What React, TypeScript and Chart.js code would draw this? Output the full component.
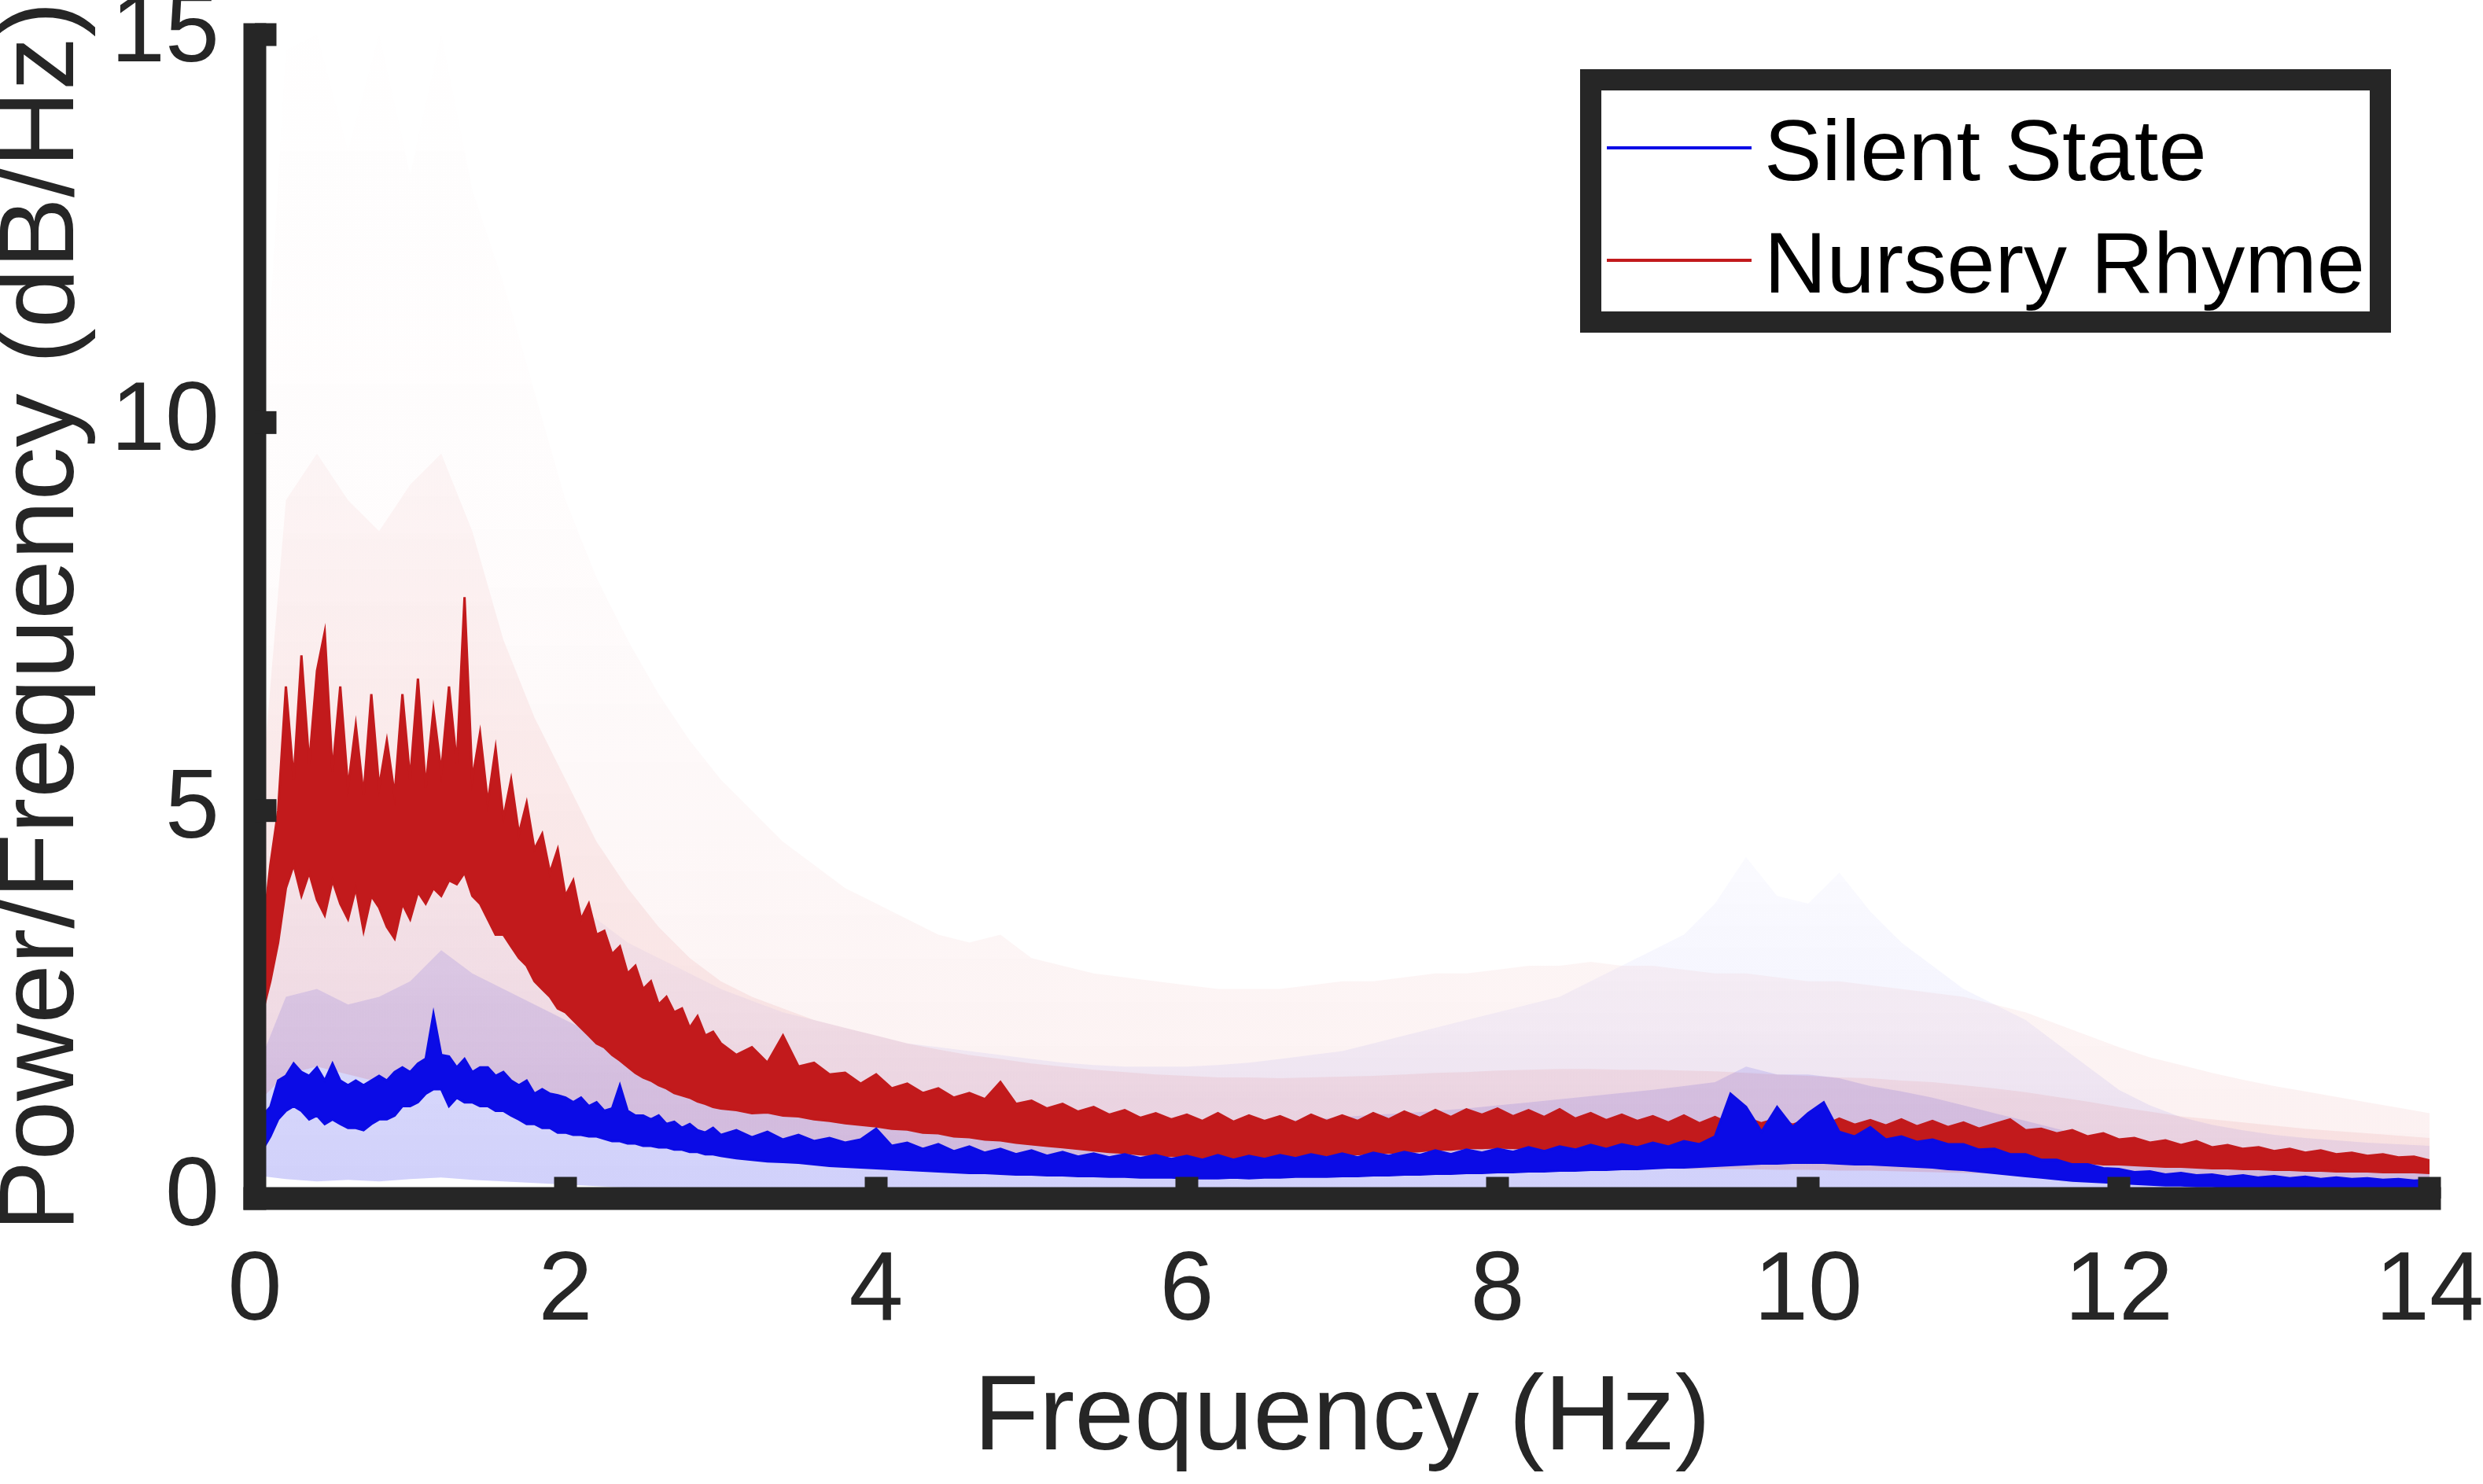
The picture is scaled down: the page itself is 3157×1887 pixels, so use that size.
import React, { useEffect, useRef } from "react";
import { Chart, registerables } from "chart.js";

Chart.register(...registerables);

// ---------- data ----------
const FREQ = [
  0, 0.05, 0.1, 0.15, 0.2, 0.25, 0.3, 0.35, 0.4, 0.45, 0.5, 0.55, 0.6, 0.65, 0.7, 0.75, 0.8, 0.85, 0.9, 0.95,
  1, 1.05, 1.1, 1.15, 1.2, 1.25, 1.3, 1.35, 1.4, 1.45, 1.5, 1.55, 1.6, 1.65, 1.7, 1.75, 1.8, 1.85, 1.9, 1.95,
  2, 2.05, 2.1, 2.15, 2.2, 2.25, 2.3, 2.35, 2.4, 2.45, 2.5, 2.55, 2.6, 2.65, 2.7, 2.75, 2.8, 2.85, 2.9, 2.95,
  3, 3.1, 3.2, 3.3, 3.4, 3.5, 3.6, 3.7, 3.8, 3.9,
  4, 4.1, 4.2, 4.3, 4.4, 4.5, 4.6, 4.7, 4.8, 4.9,
  5, 5.1, 5.2, 5.3, 5.4, 5.5, 5.6, 5.7, 5.8, 5.9,
  6, 6.1, 6.2, 6.3, 6.4, 6.5, 6.6, 6.7, 6.8, 6.9,
  7, 7.1, 7.2, 7.3, 7.4, 7.5, 7.6, 7.7, 7.8, 7.9,
  8, 8.1, 8.2, 8.3, 8.4, 8.5, 8.6, 8.7, 8.8, 8.9,
  9, 9.1, 9.2, 9.3, 9.4, 9.5, 9.6, 9.7, 9.8, 9.9,
  10, 10.1, 10.2, 10.3, 10.4, 10.5, 10.6, 10.7, 10.8, 10.9,
  11, 11.1, 11.2, 11.3, 11.4, 11.5, 11.6, 11.7, 11.8, 11.9,
  12, 12.1, 12.2, 12.3, 12.4, 12.5, 12.6, 12.7, 12.8, 12.9,
  13, 13.1, 13.2, 13.3, 13.4, 13.5, 13.6, 13.7, 13.8, 13.9,
  14,
];

// Nursery Rhyme mean trace: upper / lower edge of its noisy band
const RHYME_HI = [
  2.7, 3.4, 4.3, 5.0, 6.6, 5.4, 7.0, 5.6, 6.8, 7.3, 5.5, 6.6, 5.3, 6.1, 5.2, 6.5, 5.3, 5.9, 5.2, 6.5,
  5.4, 6.7, 5.3, 6.3, 5.5, 6.6, 5.6, 7.75, 5.4, 6.0, 5.1, 5.8, 4.9, 5.4, 4.7, 5.1, 4.5, 4.7, 4.2, 4.5,
  3.9, 4.1, 3.6, 3.8, 3.4, 3.45, 3.15, 3.25, 2.9, 3.0, 2.7, 2.8, 2.5, 2.6, 2.4, 2.45, 2.2, 2.35, 2.1, 2.15,
  2.0, 1.85, 1.95, 1.75, 2.1, 1.7, 1.75, 1.6, 1.62, 1.48,
  1.6, 1.42, 1.48, 1.36, 1.42, 1.3, 1.36, 1.28, 1.5, 1.22,
  1.26, 1.16, 1.22, 1.12, 1.18, 1.08, 1.14, 1.04, 1.1, 1.02,
  1.08, 1.0, 1.1, 0.99, 1.07, 1.0, 1.06, 0.98, 1.08, 1.0,
  1.07, 1.0, 1.1, 1.02, 1.12, 1.04, 1.14, 1.05, 1.15, 1.08,
  1.16, 1.06, 1.14, 1.05, 1.15, 1.03, 1.1, 1.01, 1.08, 1.0,
  1.06, 0.98, 1.07, 0.97, 1.05, 0.96, 1.04, 0.97, 1.03, 0.95,
  1.02, 0.94, 1.03, 0.95, 1.01, 0.94, 1.02, 0.93, 1.0, 0.92,
  0.98, 0.9, 0.96, 1.02, 0.88, 0.9, 0.84, 0.88, 0.8, 0.84,
  0.76, 0.78, 0.72, 0.75, 0.69, 0.74, 0.66, 0.69, 0.64, 0.66,
  0.61, 0.64, 0.59, 0.62, 0.57, 0.59, 0.55, 0.57, 0.53, 0.54,
  0.49,
];
const RHYME_LO = [
  2.2, 2.4, 2.8, 3.3, 4.0, 4.3, 3.9, 4.2, 3.85, 3.65, 4.1, 3.8, 3.6, 4.0, 3.45, 3.9, 3.75, 3.5, 3.35, 3.8,
  3.6, 3.95, 3.8, 4.0, 3.9, 4.1, 4.05, 4.2, 3.9, 3.8, 3.6, 3.4, 3.4, 3.25, 3.1, 3.0, 2.8, 2.7, 2.6, 2.45,
  2.4, 2.3, 2.2, 2.1, 2.0, 1.95, 1.85, 1.78, 1.7, 1.62, 1.56, 1.52, 1.46, 1.42, 1.36, 1.33, 1.3, 1.25, 1.22, 1.18,
  1.16, 1.14, 1.1, 1.11, 1.07, 1.06, 1.02, 1.0, 0.97, 0.95,
  0.93, 0.9, 0.89, 0.85, 0.84, 0.8, 0.79, 0.76, 0.75, 0.72,
  0.7, 0.68, 0.66, 0.64, 0.62, 0.6, 0.59, 0.57, 0.56, 0.55,
  0.55, 0.53, 0.54, 0.53, 0.54, 0.53, 0.55, 0.54, 0.55, 0.56,
  0.57, 0.57, 0.59, 0.59, 0.6, 0.61, 0.63, 0.63, 0.65, 0.65,
  0.66, 0.65, 0.65, 0.63, 0.63, 0.62, 0.61, 0.6, 0.61, 0.59,
  0.6, 0.58, 0.6, 0.58, 0.59, 0.57, 0.57, 0.58, 0.56, 0.57,
  0.56, 0.57, 0.55, 0.56, 0.55, 0.56, 0.54, 0.55, 0.54, 0.54,
  0.53, 0.52, 0.52, 0.5, 0.5, 0.48, 0.48, 0.46, 0.46, 0.44,
  0.44, 0.43, 0.42, 0.41, 0.41, 0.4, 0.39, 0.39, 0.38, 0.38,
  0.37, 0.37, 0.36, 0.36, 0.35, 0.35, 0.35, 0.34, 0.34, 0.34,
  0.33,
];

// Silent State mean trace: upper / lower edge of its noisy band
const SILENT_HI = [
  0.96, 1.07, 1.18, 1.52, 1.58, 1.74, 1.63, 1.58, 1.69, 1.52, 1.74, 1.52, 1.46, 1.52, 1.46, 1.52, 1.58, 1.52, 1.63, 1.69,
  1.63, 1.74, 1.8, 2.38, 1.85, 1.83, 1.69, 1.8, 1.63, 1.69, 1.69, 1.58, 1.63, 1.52, 1.46, 1.52, 1.35, 1.41, 1.35, 1.33,
  1.3, 1.24, 1.3, 1.19, 1.24, 1.13, 1.16, 1.46, 1.13, 1.07, 1.07, 1.02, 1.07, 0.96, 0.99, 0.91, 0.96, 0.88, 0.85, 0.91,
  0.82, 0.88, 0.79, 0.86, 0.76, 0.82, 0.74, 0.78, 0.72, 0.76,
  0.9, 0.68, 0.72, 0.64, 0.7, 0.61, 0.67, 0.59, 0.64, 0.57,
  0.62, 0.55, 0.6, 0.54, 0.58, 0.53, 0.57, 0.52, 0.56, 0.51,
  0.55, 0.5, 0.56, 0.5, 0.55, 0.51, 0.56, 0.52, 0.57, 0.53,
  0.58, 0.53, 0.59, 0.55, 0.6, 0.56, 0.62, 0.57, 0.63, 0.59,
  0.64, 0.6, 0.66, 0.61, 0.67, 0.63, 0.69, 0.64, 0.7, 0.66,
  0.72, 0.67, 0.74, 0.7, 0.8, 1.35, 1.18, 0.86, 1.18, 0.92,
  1.1, 1.24, 0.86, 0.8, 0.92, 0.76, 0.8, 0.73, 0.76, 0.7,
  0.7, 0.63, 0.64, 0.57, 0.57, 0.5, 0.5, 0.44, 0.44, 0.39,
  0.38, 0.34, 0.35, 0.31, 0.33, 0.3, 0.31, 0.28, 0.3, 0.27,
  0.29, 0.26, 0.28, 0.25, 0.27, 0.25, 0.26, 0.24, 0.25, 0.23,
  0.24,
];
const SILENT_LO = [
  0.57, 0.63, 0.8, 1.02, 1.13, 1.19, 1.13, 1.02, 1.07, 0.96, 1.02, 0.96, 0.91, 0.91, 0.88, 0.96, 1.02, 1.02, 1.07, 1.19,
  1.19, 1.24, 1.35, 1.41, 1.41, 1.19, 1.3, 1.24, 1.24, 1.19, 1.19, 1.13, 1.13, 1.07, 1.02, 0.96, 0.96, 0.91, 0.91, 0.85,
  0.85, 0.82, 0.82, 0.8, 0.8, 0.77, 0.74, 0.74, 0.71, 0.71, 0.68, 0.68, 0.66, 0.66, 0.63, 0.63, 0.6, 0.6, 0.57, 0.57,
  0.55, 0.52, 0.5, 0.48, 0.47, 0.46, 0.44, 0.42, 0.41, 0.4,
  0.39, 0.38, 0.37, 0.36, 0.35, 0.34, 0.33, 0.33, 0.32, 0.31,
  0.31, 0.3, 0.3, 0.29, 0.29, 0.28, 0.28, 0.27, 0.27, 0.27,
  0.26, 0.26, 0.26, 0.27, 0.26, 0.27, 0.27, 0.28, 0.28, 0.28,
  0.29, 0.29, 0.3, 0.3, 0.31, 0.31, 0.32, 0.32, 0.33, 0.33,
  0.34, 0.34, 0.35, 0.35, 0.36, 0.36, 0.37, 0.37, 0.38, 0.38,
  0.39, 0.4, 0.4, 0.41, 0.42, 0.43, 0.44, 0.45, 0.45, 0.46,
  0.46, 0.46, 0.45, 0.44, 0.44, 0.43, 0.42, 0.41, 0.4, 0.38,
  0.37, 0.35, 0.33, 0.31, 0.29, 0.27, 0.25, 0.23, 0.22, 0.21,
  0.2, 0.19, 0.18, 0.17, 0.17, 0.16, 0.16, 0.15, 0.15, 0.15,
  0.14, 0.14, 0.14, 0.13, 0.13, 0.13, 0.13, 0.12, 0.12, 0.12,
  0.12,
];

// Shaded spread (std) bands, coarser grid
const BAND_FREQ = [
  0, 0.2, 0.4, 0.6, 0.8, 1, 1.2, 1.4, 1.6, 1.8,
  2, 2.2, 2.4, 2.6, 2.8, 3, 3.2, 3.4, 3.6, 3.8,
  4, 4.2, 4.4, 4.6, 4.8, 5, 5.2, 5.4, 5.6, 5.8,
  6, 6.2, 6.4, 6.6, 6.8, 7, 7.2, 7.4, 7.6, 7.8,
  8, 8.2, 8.4, 8.6, 8.8, 9, 9.2, 9.4, 9.6, 9.8,
  10, 10.2, 10.4, 10.6, 10.8, 11, 11.2, 11.4, 11.6, 11.8,
  12, 12.2, 12.4, 12.6, 12.8, 13, 13.2, 13.4, 13.6, 13.8,
  14,
];
const RHYME_BAND_LOW = [
  1.2, 1.6, 1.7, 1.6, 1.5, 1.6, 1.7, 1.6, 1.4, 1.2,
  1.1, 0.95, 0.85, 0.75, 0.68, 0.62, 0.56, 0.52, 0.48, 0.45,
  0.43, 0.42, 0.41, 0.4, 0.4, 0.39, 0.38, 0.38, 0.37, 0.37,
  0.36, 0.36, 0.36, 0.37, 0.37, 0.38, 0.38, 0.39, 0.39, 0.4,
  0.4, 0.4, 0.4, 0.4, 0.39, 0.39, 0.38, 0.38, 0.38, 0.37,
  0.37, 0.36, 0.36, 0.35, 0.34, 0.33, 0.32, 0.31, 0.3, 0.29,
  0.28, 0.27, 0.26, 0.25, 0.24, 0.23, 0.22, 0.22, 0.21, 0.21,
  0.2,
];
const RHYME_BAND_MID = [
  4.2, 9.0, 9.6, 9.0, 8.6, 9.2, 9.6, 8.6, 7.2, 6.2,
  5.4, 4.6, 4.0, 3.5, 3.1, 2.8, 2.6, 2.45, 2.3, 2.2,
  2.1, 2.0, 1.92, 1.85, 1.8, 1.74, 1.7, 1.66, 1.63, 1.6,
  1.58, 1.56, 1.56, 1.55, 1.56, 1.57, 1.58, 1.6, 1.62, 1.63,
  1.65, 1.66, 1.67, 1.67, 1.66, 1.66, 1.65, 1.64, 1.62, 1.6,
  1.58, 1.56, 1.55, 1.52, 1.5, 1.46, 1.42, 1.37, 1.31, 1.25,
  1.18, 1.12, 1.06, 1.02, 0.98, 0.94, 0.9, 0.87, 0.84, 0.81,
  0.78,
];
const RHYME_BAND_TOP = [
  8.0, 14.8, 15, 13.5, 15, 13.2, 15, 13, 11.8, 10.4,
  9.0, 8.0, 7.2, 6.5, 5.9, 5.4, 5.0, 4.6, 4.3, 4.0,
  3.8, 3.6, 3.4, 3.3, 3.4, 3.1, 3.0, 2.9, 2.85, 2.8,
  2.75, 2.7, 2.7, 2.7, 2.75, 2.8, 2.8, 2.85, 2.9, 2.9,
  2.95, 3.0, 3.0, 3.05, 3.0, 3.0, 2.95, 2.9, 2.9, 2.85,
  2.8, 2.8, 2.75, 2.7, 2.65, 2.6, 2.5, 2.4, 2.25, 2.1,
  1.95, 1.82, 1.72, 1.62, 1.53, 1.45, 1.38, 1.31, 1.24, 1.17,
  1.1,
];
const SILENT_BAND_LOW = [
  0.3, 0.25, 0.22, 0.24, 0.22, 0.25, 0.27, 0.24, 0.22, 0.2,
  0.18, 0.16, 0.14, 0.12, 0.1, 0.08, 0.07, 0.06, 0.05, 0.05,
  0.04, 0.04, 0.04, 0.04, 0.04, 0.04, 0.04, 0.04, 0.04, 0.04,
  0.03, 0.03, 0.03, 0.03, 0.03, 0.03, 0.03, 0.03, 0.03, 0.03,
  0.03, 0.03, 0.03, 0.03, 0.03, 0.03, 0.03, 0.03, 0.03, 0.03,
  0.03, 0.03, 0.03, 0.03, 0.03, 0.03, 0.03, 0.03, 0.03, 0.03,
  0.02, 0.02, 0.02, 0.02, 0.02, 0.02, 0.02, 0.02, 0.02, 0.02,
  0.02,
];
const SILENT_BAND_MID = [
  1.6, 2.6, 2.7, 2.5, 2.6, 2.8, 3.2, 2.9, 2.7, 2.5,
  2.3, 2.1, 1.95, 1.8, 1.65, 1.55, 1.45, 1.38, 1.3, 1.25,
  1.2, 1.15, 1.1, 1.08, 1.05, 1.02, 1.0, 0.98, 0.96, 0.95,
  0.95, 0.96, 0.98, 1.0, 1.02, 1.05, 1.08, 1.1, 1.13, 1.16,
  1.2, 1.24, 1.28, 1.32, 1.36, 1.4, 1.45, 1.5, 1.7, 1.6,
  1.6, 1.55, 1.45, 1.38, 1.3, 1.2, 1.1, 1.0, 0.9, 0.8,
  0.72, 0.65, 0.6, 0.56, 0.53, 0.5, 0.48, 0.46, 0.45, 0.44,
  0.43,
];
const SILENT_BAND_TOP = [
  3.0, 4.5, 4.8, 4.4, 4.6, 5.0, 5.6, 5.0, 4.6, 4.2,
  3.9, 3.6, 3.3, 3.1, 2.9, 2.7, 2.55, 2.4, 2.3, 2.2,
  2.1, 2.0, 1.95, 1.9, 1.85, 1.8, 1.75, 1.72, 1.7, 1.7,
  1.7, 1.72, 1.75, 1.8, 1.85, 1.9, 2.0, 2.1, 2.2, 2.3,
  2.4, 2.5, 2.6, 2.8, 3.0, 3.2, 3.4, 3.8, 4.4, 3.9,
  3.8, 4.2, 3.7, 3.3, 3.0, 2.7, 2.5, 2.3, 2.0, 1.7,
  1.4, 1.2, 1.05, 0.95, 0.88, 0.82, 0.78, 0.75, 0.72, 0.7,
  0.68,
];

const SERIES_LABELS = ["Silent State", "Nursery Rhyme"];
const X_TICKS = [0, 2, 4, 6, 8, 10, 12, 14];
const Y_TICKS = [0, 5, 10, 15];
const X_TITLE = "Frequency (Hz)";
const Y_TITLE = "Power/Frequency (dB/Hz)";

// ---------- styling ----------
const W = 3157;
const H = 1887;
const BLUE = "#0b0be6";
const RED = "#c21a1c";
const AXIS = "#262626";
const FONT = '"Liberation Sans", Arial, Helvetica, sans-serif';

const pts = (xs: number[], ys: number[]) => xs.map((x, i) => ({ x, y: ys[i] }));

function gradientFill(stops: [number, string][]) {
  return (c: any) => {
    const chart = c.chart;
    const area = chart.chartArea;
    if (!area) return stops[0][1];
    const g = chart.ctx.createLinearGradient(0, area.bottom, 0, area.top);
    stops.forEach(([p, col]) => g.addColorStop(p, col));
    return g;
  };
}

export default function App() {
  const ref = useRef<HTMLCanvasElement | null>(null);

  useEffect(() => {
    const canvas = ref.current;
    if (!canvas) return;
    const LW = 29;

    const framePlugin = {
      id: "matlabFrame",
      afterDatasetsDraw(chart: any) {
        const { ctx } = chart;
        const xs = chart.scales.x;
        const ys = chart.scales.y;
        const x0 = xs.getPixelForValue(xs.min);
        const x1 = xs.getPixelForValue(xs.max);
        const y0 = ys.getPixelForValue(ys.min);
        const y1 = ys.getPixelForValue(ys.max);
        ctx.save();
        ctx.fillStyle = AXIS;
        ctx.fillRect(x0 - LW / 2, y1 - LW / 2, LW, y0 - y1 + LW);
        ctx.fillRect(x0 - LW / 2, y0 - LW / 2, x1 - x0 + LW, LW);
        const ext = LW / 2 + 13;
        ys.ticks.forEach((t: any) => {
          if (t.value === ys.min) return;
          const p = ys.getPixelForValue(t.value);
          ctx.fillRect(x0, p - LW / 2, ext, LW);
        });
        xs.ticks.forEach((t: any) => {
          if (t.value === xs.min) return;
          const p = xs.getPixelForValue(t.value);
          ctx.fillRect(p - LW / 2, y0 - ext, LW, ext);
        });
        ctx.restore();
      },
      afterDraw(chart: any) {
        const { ctx } = chart;
        const L = 2009, T = 88, R = 3040, B = 423, BW = 27;
        ctx.save();
        ctx.fillStyle = "#ffffff";
        ctx.fillRect(L, T, R - L, B - T);
        ctx.strokeStyle = AXIS;
        ctx.lineWidth = BW;
        ctx.strokeRect(L + BW / 2, T + BW / 2, R - L - BW, B - T - BW);
        const colors = [BLUE, RED];
        const lineYs = [188, 331];
        const textYs = [229, 372];
        ctx.font = `110px ${FONT}`;
        ctx.textBaseline = "alphabetic";
        ctx.textAlign = "left";
        SERIES_LABELS.forEach((label, i) => {
          ctx.strokeStyle = colors[i];
          ctx.lineWidth = 4;
          ctx.beginPath();
          ctx.moveTo(2043, lineYs[i]);
          ctx.lineTo(2227, lineYs[i]);
          ctx.stroke();
          ctx.fillStyle = "#000000";
          ctx.fillText(label, 2243, textYs[i]);
        });
        ctx.restore();
      },
    };

    const hidden = {
      borderWidth: 0,
      borderColor: "rgba(0,0,0,0)",
      backgroundColor: "rgba(0,0,0,0)",
      fill: false,
      pointRadius: 0,
    };

    const chart = new Chart(canvas, {
      type: "line",
      data: {
        datasets: [
          // 0,1: Silent State trace (drawn on top)
          { label: SERIES_LABELS[0] + " lo", data: pts(FREQ, SILENT_LO), borderColor: BLUE, borderWidth: 3, fill: false, pointRadius: 0 },
          { label: SERIES_LABELS[0], data: pts(FREQ, SILENT_HI), borderColor: BLUE, borderWidth: 3, backgroundColor: BLUE, fill: 0, pointRadius: 0 },
          // 2,3: Nursery Rhyme trace
          { label: SERIES_LABELS[1] + " lo", data: pts(FREQ, RHYME_LO), borderColor: RED, borderWidth: 3, fill: false, pointRadius: 0 },
          { label: SERIES_LABELS[1], data: pts(FREQ, RHYME_HI), borderColor: RED, borderWidth: 3, backgroundColor: RED, fill: 2, pointRadius: 0 },
          // 4-6: Nursery Rhyme spread
          { label: "rhyme band low", data: pts(BAND_FREQ, RHYME_BAND_LOW), ...hidden },
          {
            label: "rhyme band top",
            data: pts(BAND_FREQ, RHYME_BAND_TOP),
            ...hidden,
            fill: 4,
            backgroundColor: gradientFill([
              [0, "rgba(205,30,35,0.065)"],
              [0.3, "rgba(205,30,35,0.035)"],
              [0.6, "rgba(205,30,35,0.012)"],
              [1, "rgba(205,30,35,0.003)"],
            ]),
          },
          {
            label: "rhyme band mid",
            data: pts(BAND_FREQ, RHYME_BAND_MID),
            ...hidden,
            fill: 4,
            backgroundColor: gradientFill([
              [0, "rgba(205,30,35,0.08)"],
              [0.4, "rgba(205,30,35,0.065)"],
              [0.65, "rgba(205,30,35,0.035)"],
              [1, "rgba(205,30,35,0.02)"],
            ]),
          },
          // 7-9: Silent State spread
          { label: "silent band low", data: pts(BAND_FREQ, SILENT_BAND_LOW), ...hidden },
          {
            label: "silent band top",
            data: pts(BAND_FREQ, SILENT_BAND_TOP),
            ...hidden,
            fill: 7,
            backgroundColor: gradientFill([
              [0, "rgba(40,40,235,0.10)"],
              [0.15, "rgba(40,40,235,0.05)"],
              [0.3, "rgba(40,40,235,0.02)"],
              [1, "rgba(40,40,235,0.0)"],
            ]),
          },
          { label: "silent band mid", data: pts(BAND_FREQ, SILENT_BAND_MID), ...hidden, fill: 7, backgroundColor: "rgba(40,40,235,0.13)" },
        ],
      },
      options: {
        animation: false,
        responsive: false,
        maintainAspectRatio: false,
        devicePixelRatio: 1,
        events: [],
        layout: { padding: { top: 44, right: 68, bottom: 0, left: 0 } },
        elements: { line: { tension: 0 }, point: { radius: 0 } },
        plugins: {
          legend: { display: false },
          tooltip: { enabled: false },
        },
        scales: {
          x: {
            type: "linear",
            min: 0,
            max: 14,
            afterFit: (s: any) => {
              s.height = H - 1524;
              s.paddingLeft = 0;
              s.paddingRight = 0;
            },
            afterBuildTicks: (s: any) => {
              s.ticks = X_TICKS.map((v) => ({ value: v }));
            },
            grid: { display: false, drawTicks: false },
            border: { display: false },
            ticks: {
              autoSkip: false,
              maxRotation: 0,
              padding: 45,
              color: AXIS,
              font: { family: FONT, size: 124 },
            },
            title: {
              display: true,
              text: X_TITLE,
              color: AXIS,
              padding: 0,
              font: { family: FONT, size: 136, lineHeight: 1.2 },
            },
          },
          y: {
            type: "linear",
            min: 0,
            max: 15,
            afterFit: (s: any) => {
              s.width = 324;
              s.paddingTop = 0;
              s.paddingBottom = 0;
            },
            afterBuildTicks: (s: any) => {
              s.ticks = Y_TICKS.map((v) => ({ value: v }));
            },
            grid: { display: false, drawTicks: false },
            border: { display: false },
            ticks: {
              autoSkip: false,
              padding: 45,
              color: AXIS,
              font: { family: FONT, size: 124 },
            },
            title: {
              display: true,
              text: Y_TITLE,
              color: AXIS,
              padding: 0,
              font: { family: FONT, size: 136, lineHeight: 0.81 },
            },
          },
        },
      },
      plugins: [framePlugin],
    } as any);

    return () => chart.destroy();
  }, []);

  return (
    <div style={{ position: "absolute", left: 0, top: 0, width: W, height: H, background: "#ffffff" }}>
      <canvas ref={ref} width={W} height={H} style={{ display: "block", width: W, height: H }} />
    </div>
  );
}
